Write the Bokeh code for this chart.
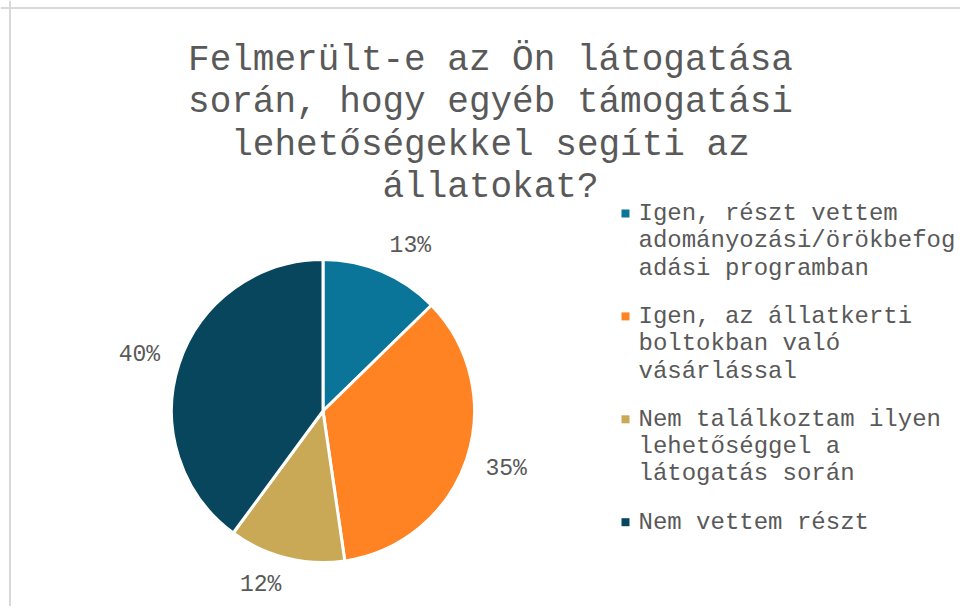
import math
from bokeh.plotting import figure
from bokeh.models import Range1d, Span, ColumnDataSource
from bokeh.core.properties import value
from bokeh.embed import file_html
from bokeh.resources import INLINE

# ---- data ----
title_lines = ["Felmerült-e az Ön látogatása",
               "során, hogy egyéb támogatási",
               "lehetőségekkel segíti az",
               "állatokat?"]
categories = [
    ["Igen, részt vettem", "adományozási/örökbefog", "adási programban"],
    ["Igen, az állatkerti", "boltokban való", "vásárlással"],
    ["Nem találkoztam ilyen", "lehetőséggel a", "látogatás során"],
    ["Nem vettem részt"],
]
shares = [12.7, 35.0, 12.4, 39.9]
pct_labels = ["13%", "35%", "12%", "40%"]
colors = ["#0B7599", "#FF8323", "#C9A955", "#07465D"]

# ---- layout ----
W, H = 960, 606
FONT = value("Liberation Mono")
GRAY = "#595959"
cx, cy, R = 322.5, 195.5, 151.5

p = figure(width=W, height=H, output_backend="svg", toolbar_location=None,
           x_range=Range1d(0, W), y_range=Range1d(0, H), min_border=0,
           outline_line_color=None, background_fill_color="white",
           border_fill_color="white")
p.axis.visible = False
p.grid.visible = False

# frame (left and top edges)
p.add_layout(Span(location=9.5, dimension="height", line_color="#D9D9D9", line_width=2))
p.add_layout(Span(location=598.5, dimension="width", line_color="#D9D9D9", line_width=2))

# pie
total = sum(shares)
starts, ends, mids = [], [], []
cum = 0.0
for s in shares:
    a0 = math.pi / 2 - 2 * math.pi * cum / total
    cum += s
    a1 = math.pi / 2 - 2 * math.pi * cum / total
    starts.append(a0); ends.append(a1); mids.append((a0 + a1) / 2)

src = ColumnDataSource(dict(start=starts, end=ends, color=colors))
p.wedge(x=cx, y=cy, radius=R, start_angle="start", end_angle="end",
        direction="clock", fill_color="color", line_color="white",
        line_width=3, source=src)

# percentage labels
for m, lab in zip(mids, pct_labels):
    ux, uy = math.cos(m), math.sin(m)
    lx = cx + ux * (R + 20)
    ly = cy + uy * (R + 20) + uy * 8
    p.text(x=[lx], y=[ly], text=[lab], text_font=FONT, text_font_size="23px",
           text_color=GRAY, text_align="left" if ux > 0 else "right",
           text_baseline="middle")

# title
tx, ty0, tstep = 490, 546, 42.3
for i, line in enumerate(title_lines):
    p.text(x=[tx], y=[ty0 - i * tstep], text=[line], text_font=FONT,
           text_font_size="36px", text_color=GRAY, text_align="center",
           text_baseline="alphabetic")

# legend
mx, lx0 = 625, 638
ly = 393.0
lstep, gap = 27.3, 21.0
for lines, col in zip(categories, colors):
    p.scatter(x=[mx], y=[ly], marker="square", size=8, fill_color=col, line_color=None)
    for j, t in enumerate(lines):
        p.text(x=[lx0], y=[ly - j * lstep], text=[t], text_font=FONT,
               text_font_size="24px", text_color=GRAY, text_align="left",
               text_baseline="middle")
    ly -= len(lines) * lstep + gap

open("out.html", "w").write(file_html(p, INLINE))
